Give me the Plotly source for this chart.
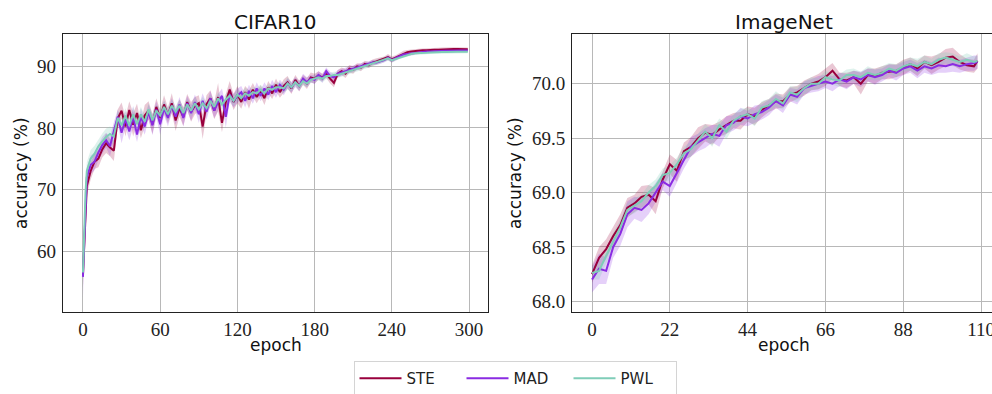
import plotly.graph_objects as go

# ---------------- data ----------------
cifar_epochs = [0, 1, 2] + list(range(3, 298, 3)) + [299]

cifar_ste = [56.0, 61.0, 66.5, 70.5, 73.0, 74.5, 75.0, 76.5, 77.5, 76.8, 76.3,
             81.5, 82.8, 80.2, 82.9, 80.5, 82.4, 79.6, 82.0, 82.8, 80.6, 83.4, 81.6, 83.8, 82.0, 84.0, 81.2,
             83.2, 81.8, 84.2, 82.6, 83.6, 84.0, 80.2, 83.8, 84.8, 82.8, 85.0, 80.8, 84.2, 86.2, 84.2, 85.4,
             84.2, 85.8, 84.6, 86.2, 85.0, 86.0, 84.8, 86.6, 85.6, 87.0, 85.8, 86.8, 87.4, 86.4, 87.8, 86.8, 87.8,
             87.2, 88.2, 88.0, 88.5, 88.2, 88.8, 88.0, 87.3, 88.8, 89.2, 88.8, 89.6, 89.4, 90.0, 89.8, 90.4, 90.2, 90.6, 90.8, 91.0,
             91.2, 91.5, 91.1, 91.4, 91.8, 92.1, 92.3, 92.4, 92.5, 92.5, 92.6, 92.6, 92.7, 92.7, 92.7, 92.75, 92.8, 92.8, 92.8, 92.8,
             92.8, 92.8, 92.75]
cifar_mad = [55.8, 62.5, 68.0, 72.0, 74.0, 74.5, 76.0, 77.2, 78.0, 77.0, 79.5,
             81.8, 79.2, 81.4, 79.4, 81.8, 78.9, 81.8, 80.2, 82.6, 80.4, 83.0, 80.6, 83.2, 81.6, 83.6, 81.8,
             83.8, 81.6, 84.0, 82.4, 84.2, 82.2, 84.4, 82.6, 84.8, 82.8, 84.2, 85.2, 81.8, 85.4, 84.4, 85.2,
             85.8, 84.4, 86.0, 84.8, 86.4, 85.2, 86.4, 85.4, 86.8, 85.8, 87.0, 86.2, 87.2, 86.6, 87.4, 86.8, 88.0,
             87.4, 88.0, 87.8, 88.6, 88.0, 89.2, 88.4, 88.2, 88.8, 89.0, 89.2, 89.4, 89.6, 89.8, 90.0, 90.2, 90.4, 90.6, 90.6, 90.8,
             91.0, 91.4, 91.0, 91.3, 91.6, 91.9, 92.0, 92.1, 92.2, 92.3, 92.35, 92.4, 92.4, 92.45, 92.5, 92.5, 92.5, 92.5, 92.55, 92.55,
             92.55, 92.55, 92.55]
cifar_pwl = [56.5, 64.0, 69.5, 73.0, 75.0, 75.8, 77.0, 77.8, 78.5, 79.0, 78.6,
             81.6, 80.4, 82.0, 80.4, 82.2, 80.6, 82.2, 81.0, 83.0, 81.2, 82.8, 82.0, 83.4, 82.2, 83.6, 82.6,
             83.6, 82.4, 83.8, 82.8, 84.0, 83.0, 84.0, 83.2, 84.4, 83.4, 84.8, 83.8, 84.6, 85.2, 84.4, 85.4,
             84.8, 85.6, 85.2, 85.8, 85.6, 86.2, 85.6, 86.4, 86.2, 86.6, 86.6, 86.4, 87.2, 86.6, 87.4, 86.8, 87.6,
             87.2, 87.8, 88.0, 88.2, 88.0, 88.4, 88.4, 88.6, 88.6, 88.8, 89.0, 89.2, 89.4, 89.6, 89.8, 90.0, 90.2, 90.4, 90.6, 90.8,
             91.0, 91.3, 91.0, 91.2, 91.5, 91.7, 91.9, 92.0, 92.1, 92.1, 92.2, 92.2, 92.25, 92.3, 92.3, 92.3, 92.3, 92.35, 92.35, 92.35,
             92.35, 92.35, 92.35]
cifar_ste_std = [2.0, 1.8, 1.6, 1.5,
                 1.4, 1.2, 1.4, 1.3, 1.6, 1.4, 1.7, 1.5, 1.3, 1.6, 1.4, 1.9, 1.5, 1.3, 1.7, 1.5, 1.6, 1.4, 1.3,
                 1.5, 1.3, 1.6, 1.7, 1.4, 1.5, 1.3, 1.6, 1.4, 1.3, 2.0, 1.5, 1.3, 1.4, 2.3, 1.5, 1.3, 1.4, 1.3, 1.4,
                 1.1, 1.0, 1.5, 1.1, 1.0, 0.9, 1.1, 1.0, 0.9, 1.0, 0.9, 1.1, 1.0, 0.9, 0.8, 0.9, 0.8, 0.9, 0.8, 0.8,
                 0.7, 0.6, 0.7, 0.8, 0.7, 0.6, 0.6, 0.7, 0.6, 0.6, 0.5, 0.6, 0.5, 0.5, 0.5, 0.5, 0.4, 0.4, 0.5, 0.5,
                 0.4, 0.4, 0.4, 0.35, 0.35, 0.35, 0.35, 0.3, 0.3, 0.3, 0.3, 0.3, 0.3, 0.3, 0.3, 0.3, 0.3, 0.3, 0.3,
                 0.3]
cifar_mad_std = [3.5, 2.0, 1.8, 1.6,
                 1.5, 1.4, 1.2, 1.3, 1.2, 1.6, 1.4, 1.2, 1.7, 1.3, 1.4, 1.8, 1.2, 1.4, 1.3, 1.2, 1.6, 1.3, 1.7,
                 1.2, 1.4, 1.2, 1.3, 1.2, 1.4, 1.2, 1.3, 1.2, 1.4, 1.2, 1.3, 1.2, 1.2, 1.3, 1.2, 1.8, 1.2, 1.1, 1.2,
                 1.0, 1.1, 1.0, 0.9, 1.0, 0.9, 1.0, 0.9, 1.0, 0.9, 0.8, 0.9, 0.8, 0.9, 0.8, 0.8, 0.8, 0.8, 0.6, 0.7,
                 0.6, 0.7, 0.6, 0.7, 0.6, 0.6, 0.6, 0.5, 0.5, 0.5, 0.5, 0.5, 0.5, 0.4, 0.4, 0.4, 0.4, 0.4, 0.4, 0.4,
                 0.35, 0.35, 0.35, 0.3, 0.3, 0.3, 0.3, 0.25, 0.25, 0.25, 0.25, 0.25, 0.25, 0.25, 0.25, 0.25, 0.25, 0.25, 0.25,
                 0.25]
cifar_pwl_std = [2.5, 1.8, 1.5, 1.4,
                 1.4, 1.3, 1.2, 1.3, 1.4, 1.2, 1.3, 1.2, 1.1, 1.2, 1.1, 1.2, 1.1, 1.2, 1.1, 1.0, 1.1, 1.0, 1.1,
                 1.0, 1.1, 1.0, 0.9, 1.0, 0.9, 1.0, 0.9, 1.0, 0.9, 1.0, 0.9, 1.0, 0.9, 1.0, 0.9, 0.9, 0.8, 0.9, 0.9,
                 0.8, 0.9, 0.8, 0.8, 0.9, 0.8, 0.8, 0.7, 0.8, 0.7, 0.8, 0.7, 1.0, 0.7, 0.7, 0.7, 0.7, 0.6, 0.5, 0.6,
                 0.5, 0.6, 0.5, 0.5, 0.5, 0.5, 0.5, 0.4, 0.4, 0.4, 0.4, 0.4, 0.4, 0.4, 0.4, 0.4, 0.4, 0.4, 0.4, 0.4,
                 0.3, 0.3, 0.3, 0.3, 0.25, 0.25, 0.25, 0.25, 0.25, 0.25, 0.25, 0.25, 0.25, 0.25, 0.25, 0.25, 0.25, 0.25, 0.25,
                 0.25]

imnet_epochs = list(range(0, 110, 2)) + [109]

imnet_ste = [68.25, 68.40, 68.48, 68.60, 68.70, 68.86, 68.90, 68.96, 68.98, 68.92, 69.12, 69.26, 69.20, 69.38,
             69.42, 69.50, 69.55, 69.53, 69.58, 69.62, 69.66, 69.66, 69.72, 69.70, 69.76, 69.80, 69.84, 69.84,
             69.90, 69.92, 69.96, 70.00, 70.02, 70.06, 70.12, 70.04, 70.03, 70.06, 70.00, 70.08, 70.07, 70.10,
             70.11, 70.12, 70.15, 70.18, 70.14, 70.20, 70.17, 70.20, 70.24, 70.25, 70.20, 70.17, 70.16, 70.21]
imnet_mad = [68.20, 68.30, 68.28, 68.50, 68.62, 68.80, 68.86, 68.84, 68.90, 69.00, 69.10, 69.06, 69.18, 69.30,
             69.42, 69.46, 69.50, 69.54, 69.52, 69.62, 69.64, 69.70, 69.68, 69.72, 69.74, 69.78, 69.84, 69.80,
             69.90, 69.88, 69.96, 69.98, 70.00, 70.02, 70.00, 70.04, 70.02, 70.06, 70.04, 70.08, 70.06, 70.08,
             70.12, 70.10, 70.14, 70.16, 70.12, 70.16, 70.14, 70.17, 70.16, 70.18, 70.16, 70.18, 70.19, 70.20]
imnet_pwl = [68.26, 68.28, 68.42, 68.55, 68.68, 68.84, 68.88, 68.92, 69.00, 69.06, 69.16, 69.18, 69.26, 69.36,
             69.40, 69.48, 69.56, 69.50, 69.62, 69.56, 69.66, 69.70, 69.72, 69.68, 69.78, 69.80, 69.86, 69.82,
             69.92, 69.90, 69.96, 70.00, 70.00, 70.06, 70.04, 70.03, 70.08, 70.08, 70.06, 70.10, 70.08, 70.10,
             70.14, 70.12, 70.16, 70.18, 70.16, 70.20, 70.18, 70.22, 70.24, 70.22, 70.20, 70.22, 70.20, 70.21]
imnet_ste_std = [0.08, 0.10, 0.09, 0.08, 0.10, 0.09, 0.08, 0.10, 0.09, 0.12, 0.08, 0.09, 0.10, 0.08,
                 0.09, 0.10, 0.08, 0.09, 0.07, 0.08, 0.07, 0.08, 0.07, 0.08, 0.07, 0.06, 0.07, 0.06,
                 0.07, 0.06, 0.07, 0.06, 0.07, 0.08, 0.07, 0.06, 0.07, 0.06, 0.10, 0.06, 0.07, 0.06,
                 0.07, 0.06, 0.07, 0.06, 0.07, 0.06, 0.08, 0.07, 0.08, 0.08, 0.07, 0.06, 0.06, 0.07]
imnet_mad_std = [0.12, 0.14, 0.12, 0.10, 0.11, 0.12, 0.10, 0.11, 0.10, 0.09, 0.08, 0.10, 0.09, 0.08,
                 0.09, 0.08, 0.09, 0.08, 0.10, 0.08, 0.07, 0.08, 0.07, 0.08, 0.07, 0.07, 0.06, 0.07,
                 0.06, 0.07, 0.06, 0.06, 0.07, 0.06, 0.07, 0.06, 0.07, 0.06, 0.07, 0.06, 0.07, 0.06,
                 0.06, 0.07, 0.06, 0.06, 0.07, 0.06, 0.06, 0.07, 0.06, 0.07, 0.06, 0.06, 0.07, 0.06]
imnet_pwl_std = [0.06, 0.08, 0.07, 0.08, 0.07, 0.06, 0.07, 0.06, 0.07, 0.06, 0.06, 0.07, 0.06, 0.06,
                 0.07, 0.06, 0.07, 0.08, 0.06, 0.07, 0.06, 0.07, 0.06, 0.07, 0.06, 0.06, 0.07, 0.06,
                 0.06, 0.07, 0.06, 0.06, 0.05, 0.06, 0.05, 0.06, 0.05, 0.06, 0.05, 0.06, 0.05, 0.06,
                 0.05, 0.06, 0.05, 0.06, 0.07, 0.06, 0.05, 0.06, 0.05, 0.06, 0.05, 0.06, 0.05, 0.05]

methods = ["STE", "MAD", "PWL"]
colors = {"STE": "#99003d", "MAD": "#8a2be2", "PWL": "#7fcdb8"}
bands = {"STE": "rgba(153,0,61,0.22)", "MAD": "rgba(138,43,226,0.22)", "PWL": "rgba(127,205,184,0.25)"}

x_ticks_cifar = [0, 60, 120, 180, 240, 300]
y_ticks_cifar = [60, 70, 80, 90]
x_ticks_imnet = [0, 22, 44, 66, 88, 110]
y_ticks_imnet = [68.0, 68.5, 69.0, 69.5, 70.0]

# ---------------- figure ----------------
W, H = 992, 394
fig = go.Figure()

panels = [
    ("x", "y", cifar_epochs, {"STE": (cifar_ste, cifar_ste_std), "MAD": (cifar_mad, cifar_mad_std),
                              "PWL": (cifar_pwl, cifar_pwl_std)}),
    ("x2", "y2", imnet_epochs, {"STE": (imnet_ste, imnet_ste_std), "MAD": (imnet_mad, imnet_mad_std),
                                "PWL": (imnet_pwl, imnet_pwl_std)}),
]

for xa, ya, ep, data in panels:
    for m in methods:
        mean, std = data[m]
        up = [a + b for a, b in zip(mean, std)]
        lo = [a - b for a, b in zip(mean, std)]
        fig.add_trace(go.Scatter(x=ep + ep[::-1], y=up + lo[::-1], fill="toself", fillcolor=bands[m],
                                 line=dict(width=0), mode="lines", hoverinfo="skip", showlegend=False,
                                 xaxis=xa, yaxis=ya))
    for m in methods:
        mean, std = data[m]
        fig.add_trace(go.Scatter(x=ep, y=mean, mode="lines", line=dict(color=colors[m], width=2),
                                 name=m, showlegend=(xa == "x"), xaxis=xa, yaxis=ya))

ytop, ybot = 34, 312.3
ydom = [(H - ybot) / H, (H - ytop) / H]
tickfont = dict(family="Liberation Serif, serif", size=19, color="#222")
grid = dict(showgrid=True, gridcolor="#b8b8b8", gridwidth=1, zeroline=False, ticks="", automargin=False,
            showline=True, linecolor="#222", linewidth=1.3, tickfont=tickfont)

fig.update_layout(
    width=W, height=H, margin=dict(l=0, r=0, t=0, b=0, autoexpand=False),
    paper_bgcolor="white", plot_bgcolor="white",
    xaxis=dict(domain=[63 / W, 488 / W], range=[-15.5, 314.7], tickvals=x_ticks_cifar, mirror=True,
               anchor="y", **grid),
    yaxis=dict(domain=ydom, range=[50.05, 95.24], tickvals=y_ticks_cifar, mirror=True, anchor="x",
               ticklabelstandoff=2, **grid),
    xaxis2=dict(domain=[572.3 / W, 1.0], range=[-5.57, 113.1], tickvals=x_ticks_imnet, mirror=True,
                anchor="y2", ticklabeloverflow="allow", **grid),
    yaxis2=dict(domain=ydom, range=[67.899, 70.457], tickvals=y_ticks_imnet, mirror=False, anchor="x2",
                tickformat=".1f", ticklabelstandoff=2, **grid),
    legend=dict(orientation="h", x=515 / W, xanchor="center", y=(H - 361) / H, yanchor="top",
                bgcolor="white", bordercolor="#d4d4d4", borderwidth=1,
                font=dict(family="DejaVu Sans, sans-serif", size=15, color="#222"),
                itemwidth=42, entrywidth=50, tracegroupgap=0),
    showlegend=True,
)

sans = "DejaVu Sans, sans-serif"
ann = [
    dict(text="CIFAR10", x=275.5 / W, y=(H - 22) / H, font=dict(family=sans, size=20, color="#111")),
    dict(text="ImageNet", x=784 / W, y=(H - 22) / H, font=dict(family=sans, size=20, color="#111")),
    dict(text="epoch", x=275.5 / W, y=(H - 345) / H, font=dict(family=sans, size=17, color="#111")),
    dict(text="epoch", x=784 / W, y=(H - 345) / H, font=dict(family=sans, size=17, color="#111")),
    dict(text="accuracy (%)", x=21 / W, y=(H - 173) / H, textangle=-90, font=dict(family=sans, size=17, color="#111")),
    dict(text="accuracy (%)", x=515 / W, y=(H - 173) / H, textangle=-90, font=dict(family=sans, size=17, color="#111")),
]
for a in ann:
    fig.add_annotation(xref="paper", yref="paper", showarrow=False, xanchor="center", yanchor="middle", **a)

fig.write_html("out.html", config={"displayModeBar": False},
               post_script="document.body.style.margin='0px';document.body.style.overflow='hidden';")
